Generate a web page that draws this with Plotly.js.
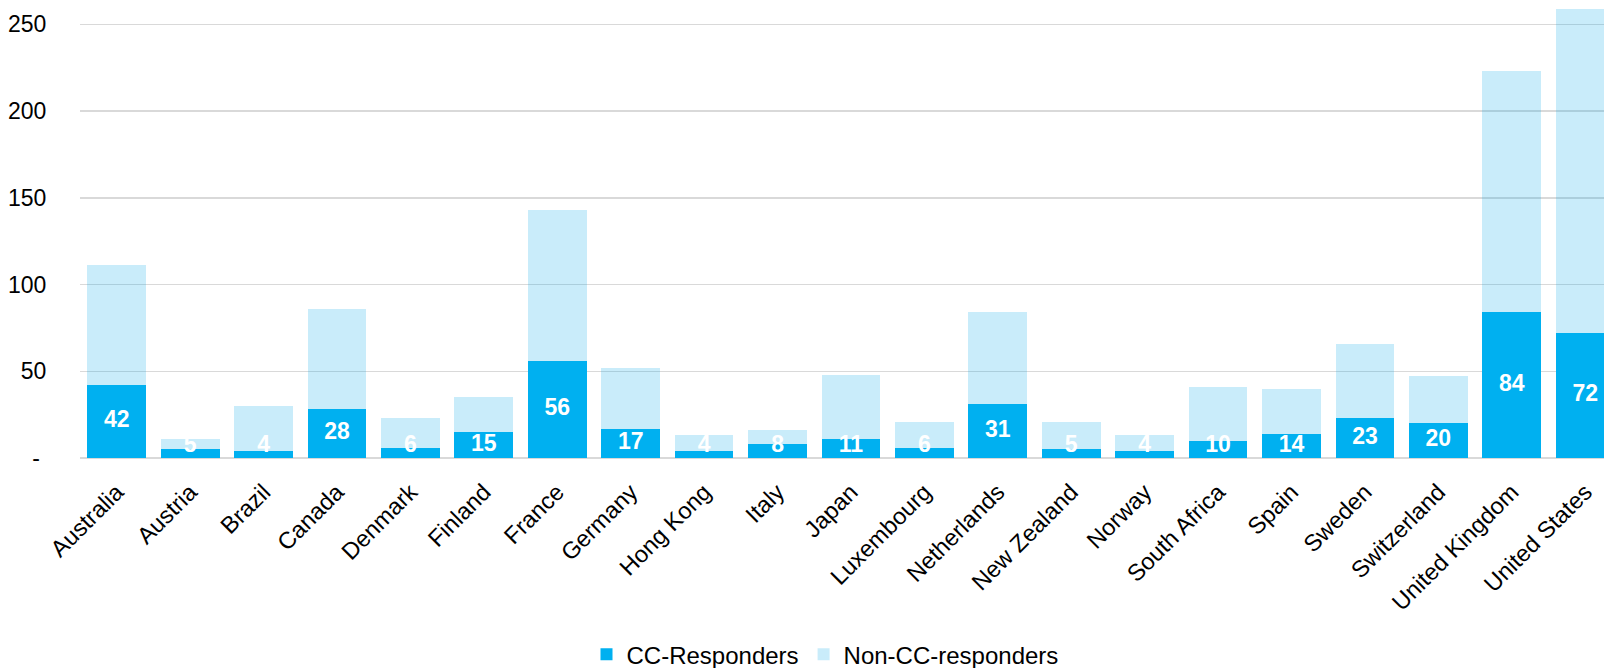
<!DOCTYPE html>
<html>
<head>
<meta charset="utf-8">
<script src="https://cdn.plot.ly/plotly-3.0.1.min.js"></script>
<style>
  html, body { margin: 0; padding: 0; background: #fff; }
  #chart { width: 1604px; height: 668px; }
</style>
</head>
<body>
<div id="chart"></div>
<script>
// Countries along the x axis
const countries = [
  "Australia", "Austria", "Brazil", "Canada", "Denmark", "Finland", "France",
  "Germany", "Hong Kong", "Italy", "Japan", "Luxembourg", "Netherlands",
  "New Zealand", "Norway", "South Africa", "Spain", "Sweden", "Switzerland",
  "United Kingdom", "United States"
];

// Responders per country (bottom segment, labelled)
const ccResponders = [42, 5, 4, 28, 6, 15, 56, 17, 4, 8, 11, 6, 31, 5, 4, 10, 14, 23, 20, 84, 72];

// Non-responders per country (stacked on top)
const nonCcResponders = [69, 6, 26, 58, 17, 20, 87, 35, 9, 8, 37, 15, 53, 16, 9, 31, 26, 43, 27, 139, 187];

// Y axis ticks; zero is shown as a dash
const yTickValues = [0, 50, 100, 150, 200, 250];
const yTickText = ["-\u00a0", "50", "100", "150", "200", "250"];

const seriesNames = ["CC-Responders", "Non-CC-responders"];

const FONT = "Liberation Sans, Arial, sans-serif";

// Labels sit in the middle of each responder segment, but never lower than
// a small floor so that short segments keep the label inside the plot.
const labelFloor = 7;
const labelY = ccResponders.map(v => Math.max(v / 2, labelFloor));

const traces = [
  {
    type: "bar",
    name: seriesNames[0],
    x: countries,
    y: ccResponders,
    marker: { color: "#00B0F0", line: { width: 0 } },
    hoverinfo: "x+y+name"
  },
  {
    type: "bar",
    name: seriesNames[1],
    x: countries,
    y: nonCcResponders,
    marker: { color: "rgba(0,163,232,0.21)", line: { width: 0 } },
    hoverinfo: "x+y+name"
  },
  {
    type: "scatter",
    mode: "text",
    x: countries,
    y: labelY,
    text: ccResponders.map(String),
    textposition: "middle center",
    textfont: { family: FONT, size: 23, color: "#FFFFFF", weight: "bold" },
    cliponaxis: false,
    showlegend: false,
    hoverinfo: "skip"
  }
];

const layout = {
  width: 1604,
  height: 668,
  margin: { l: 80, r: 0, t: 0, b: 210, pad: 0 },
  paper_bgcolor: "#FFFFFF",
  plot_bgcolor: "#FFFFFF",
  barmode: "stack",
  bargap: 0.2,
  font: { family: FONT, size: 23, color: "#000000" },
  showlegend: true,
  legend: {
    orientation: "h",
    xref: "paper",
    x: (825 - 80) / 1524,
    xanchor: "center",
    yref: "container",
    y: 0.02,
    yanchor: "middle",
    font: { family: FONT, size: 24, color: "#000000" },
    itemwidth: 30,
    traceorder: "normal"
  },
  xaxis: {
    type: "category",
    range: [-0.5, 20.256],
    tickangle: -45,
    ticks: "outside",
    ticklen: 10,
    tickcolor: "rgba(0,0,0,0)",
    tickfont: { family: FONT, size: 23.5, color: "#000000" },
    showgrid: false,
    zeroline: false,
    showline: false,
    fixedrange: true
  },
  yaxis: {
    range: [0, 264],
    tickvals: yTickValues,
    ticktext: yTickText,
    ticks: "outside",
    ticklen: 28,
    tickcolor: "rgba(0,0,0,0)",
    tickfont: { family: FONT, size: 23, color: "#000000" },
    showgrid: true,
    gridcolor: "#D9D9D9",
    gridwidth: 1.5,
    zeroline: true,
    zerolinecolor: "#D9D9D9",
    zerolinewidth: 1.5,
    showline: false,
    fixedrange: true
  }
};

Plotly.newPlot("chart", traces, layout, { displayModeBar: false, staticPlot: true });
</script>
</body>
</html>
